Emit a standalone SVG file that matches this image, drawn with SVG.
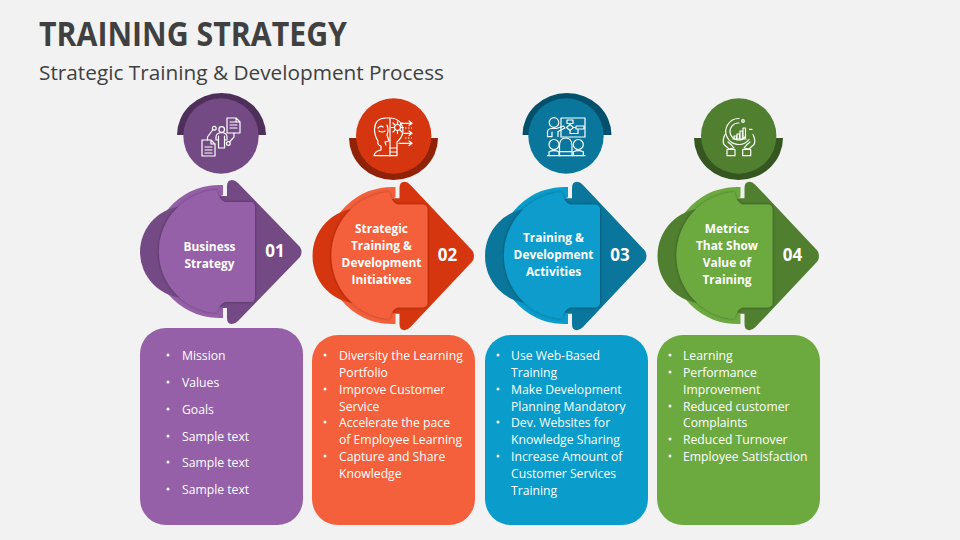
<svg xmlns="http://www.w3.org/2000/svg" width="960" height="540" viewBox="0 0 960 540">
<style>
text{font-family:"Open Sans","Noto Sans","Liberation Sans",sans-serif;}
.t{font-size:33.5px;font-weight:700;fill:#404040}
.s{font-size:20.8px;fill:#404040}
.h{font-size:11.9px;font-weight:700;fill:#fff;text-anchor:middle}
.n{font-size:17px;font-weight:700;fill:#fff;text-anchor:middle}
.b{font-size:12.2px;fill:#fff}
.i{fill:none;stroke:#fff;stroke-width:1.2;stroke-linejoin:round;stroke-linecap:round}
.l{fill:var(--l)}.m{fill:var(--m)}.d{fill:var(--d)}
.p{--l:#9560A8;--m:#744A85;--d:#4E2F5A}
.o{--l:#F4603B;--m:#D5360F;--d:#8F2209}
.c{--l:#0A9CCB;--m:#0A769C;--d:#03506D}
.g{--l:#6CAA40;--m:#507F30;--d:#355620}
</style>
<defs>
<filter id="sh" x="-10%" y="-10%" width="120%" height="120%"><feDropShadow dx="0" dy="0" stdDeviation="1.400" flood-color="#000" flood-opacity=".4"/></filter>
<g id="shape">
<path class="m" d="M227 186 Q227 180 232 180 Q235 180 238 183 L300 247 Q303 252 300 257 L238 321 Q235 324 232 324 Q227 324 227 318 V308 H200 V196 H227Z"/>
<path class="l" d="M223 185 V195 L212 200 V304 L223 308 V318 A66.600 66.600 0 1 1 223 185Z"/>
<circle class="m" cx="186" cy="252" r="46"/>
<path class="l" d="M217 190 Q219 200 225 202 L250 202 Q255 202 255 207 L255 297 Q255 302 250 302 L225 302 Q219 304 217 313 A61.600 61.600 0 0 1 217 190Z" filter="url(#sh)"/>
</g>
<path id="rup" d="M177 135 A44.500 42 0 0 1 266 135Z"/>
<path id="rdn" d="M349 138 A44.500 42 0 0 0 438 138Z"/>
</defs>
<rect width="960" height="540" fill="#F2F2F2"/>
<text class="t" x="39" y="46" textLength="308" lengthAdjust="spacingAndGlyphs">TRAINING STRATEGY</text>
<text class="s" x="39" y="80" textLength="405" lengthAdjust="spacingAndGlyphs">Strategic Training &amp; Development Process</text>

<g id="node1" class="p">
<use href="#rup" class="d"/><circle class="m" cx="221" cy="136" r="37.700"/>
<g class="i">
<path d="M202 140h9l4 4v12h-13z M211 140v4h4 M205 147h7 M205 150h7 M205 153h7"/>
<path d="M227 118h9l4 4v11h-13z M236 118v4h4 M230 122h5 M230 125h7 M230 128h7"/>
<circle cx="221.700" cy="129.500" r="2.800"/><path d="M216 140v-3q0-4 5.700-4.500q5.300.5 5.300 4.500v3 M218.500 136v12h6v-12 M216 140h2.500 M224.500 140h2.500"/>
<path d="M207.500 140v-3l5.500-7.500"/><circle cx="214.300" cy="128.300" r="1.900"/>
<path d="M234 133v4l-4.500 5"/><circle cx="228.300" cy="143.500" r="1.900"/>
</g>
<use href="#shape"/>
<text class="h" x="209.500" y="251">Business</text><text class="h" x="209.500" y="268">Strategy</text>
<text class="n" x="275" y="257">01</text>
<rect class="l" x="140" y="328" width="163" height="197" rx="26"/>
<g fill="#fff"><circle cx="168" cy="355" r="1.500"/><circle cx="168" cy="382" r="1.500"/><circle cx="168" cy="409" r="1.500"/><circle cx="168" cy="436" r="1.500"/><circle cx="168" cy="462" r="1.500"/><circle cx="168" cy="489" r="1.500"/></g>
<text class="b" x="182" y="360">Mission</text><text class="b" x="182" y="387">Values</text><text class="b" x="182" y="414">Goals</text><text class="b" x="182" y="441">Sample text</text><text class="b" x="182" y="467">Sample text</text><text class="b" x="182" y="494">Sample text</text>
</g>

<g id="node2" class="o">
<use href="#rdn" class="d"/><circle class="m" cx="393.700" cy="136" r="37.700"/>
<g class="i">
<path d="M390 118H386Q375 118 374.500 129Q374.500 136 378 141Q377 145 381 146V150Q375 151 374 155.700H390 M390 118V155.700"/>
<path d="M378 128q3-3 5-1 M379 131q3 2 6 0 M387 125q2 5 0 10l2 6l-4 1l1 3"/><circle cx="397.500" cy="127.500" r="3"/><path d="M397.500 121.500v2M397.500 131.500v2M391.500 127.500h2M401.500 127.500h2M393 123l1.500 1.500M402 123l-1.500 1.500M393 132l1.500-1.500M402 132l-1.500-1.500"/>
<path d="M391 118q11 1 12 12q0 7-6 12v13.700h-7 M390 148h7M390 152h7"/>
<path d="M401 123.300h11M409 121l3 2.300-3 2.300M404 133.300h8M409 131l3 2.300-3 2.300M399 143.300h13M409 141l3 2.300-3 2.300"/>
<path d="M405 128h7M405 138h7" stroke-dasharray="1.500 1.500" stroke-linecap="butt"/>
</g>
<use href="#shape" transform="translate(172.500 -3.560) scale(1 1.030)"/>
<text class="h" x="381.500" y="233">Strategic</text><text class="h" x="381.500" y="250">Training &amp;</text><text class="h" x="381.500" y="267">Development</text><text class="h" x="381.500" y="284">Initiatives</text>
<text class="n" x="447.500" y="261">02</text>
<rect class="l" x="312" y="335" width="163" height="190" rx="26"/>
<g fill="#fff"><circle cx="325" cy="355" r="1.500"/><circle cx="325" cy="389" r="1.500"/><circle cx="325" cy="422" r="1.500"/><circle cx="325" cy="456" r="1.500"/></g>
<text class="b" x="339" y="360">Diversity the Learning</text><text class="b" x="339" y="377">Portfolio</text><text class="b" x="339" y="394">Improve Customer</text><text class="b" x="339" y="411">Service</text><text class="b" x="339" y="427">Accelerate the pace</text><text class="b" x="339" y="444">of Employee Learning</text><text class="b" x="339" y="461">Capture and Share</text><text class="b" x="339" y="478">Knowledge</text>
</g>

<g id="node3" class="c">
<use href="#rup" x="345" class="d" transform="translate(.500 0)"/><circle class="m" cx="566" cy="136" r="37.700"/>
<g class="i">
<rect x="561" y="118" width="24" height="19"/><circle cx="554" cy="122.500" r="4.800"/><path d="M547.500 136.700v-4.700q0-3 4-3.500h5l7-2.500l1.500 2l-7 3.500v5 M552 132v4.700h-4.500"/>
<path d="M567 120h6v3.500h-6z M570 123.500v1 M570 124.500l3.500 3-3.500 3-3.500-3z M576 126h8v3h-8z M573.500 127.500h2.500 M570 130.500v3h8v-4"/>
<circle cx="554" cy="144.500" r="5"/><path d="M549 155.700v-4q5-2 10 0v4zM547.500 155.700h13"/>
<path d="M559.500 146q0-8 6.200-8q6.300 0 6.300 8v5.500h-12.500z M559.500 155.700h12.500v-4h-12.500z"/>
<circle cx="578.300" cy="144.500" r="5"/><path d="M573.300 155.700v-4q5-2 10 0v4zM572 155.700h13"/>
</g>
<use href="#shape" transform="translate(345 -3.560) scale(1 1.030)"/>
<text class="h" x="553.500" y="242">Training &amp;</text><text class="h" x="553.500" y="259">Development</text><text class="h" x="553.500" y="276">Activities</text>
<text class="n" x="620" y="261">03</text>
<rect class="l" x="485" y="335" width="163" height="190" rx="26"/>
<g fill="#fff"><circle cx="498" cy="355" r="1.500"/><circle cx="498" cy="389" r="1.500"/><circle cx="498" cy="422" r="1.500"/><circle cx="498" cy="456" r="1.500"/></g>
<text class="b" x="511" y="360">Use Web-Based</text><text class="b" x="511" y="377">Training</text><text class="b" x="511" y="394">Make Development</text><text class="b" x="511" y="411">Planning Mandatory</text><text class="b" x="511" y="427">Dev. Websites for</text><text class="b" x="511" y="444">Knowledge Sharing</text><text class="b" x="511" y="461">Increase Amount of</text><text class="b" x="511" y="478">Customer Services</text><text class="b" x="511" y="495">Training</text>
</g>

<g id="node4" class="g">
<use href="#rdn" x="345" class="d"/><circle class="m" cx="738.700" cy="136" r="37.700"/>
<g class="i">
<path d="M739 118.500a13 13 0 1 0 10 21 M739 123a8.500 8.500 0 1 0 6 14"/><circle cx="743" cy="121" r="1.300"/><path d="M749.500 129.300h2.500"/>
<path d="M734 139v-3h2.500v3M737 139v-5h2.500v5M740 139v-8h2.500v8M743 139v-11h2.500v11M733 139h13"/>
<path d="M725 134.500q-3 6-1 10l5 4.500l5 -1q-3-4-6-6 M727 149.500h8v6.200h-8z M753 134.500q3 6 1 10l-5 4.500l-5-1q3-4 6-6 M742.700 149.500h8v6.200h-8z"/>
</g>
<use href="#shape" transform="translate(517.500 -3.560) scale(1 1.030)"/>
<text class="h" x="727" y="233">Metrics</text><text class="h" x="727" y="250">That Show</text><text class="h" x="727" y="267">Value of</text><text class="h" x="727" y="284">Training</text>
<text class="n" x="792.500" y="261">04</text>
<rect class="l" x="657" y="335" width="163" height="190" rx="26"/>
<g fill="#fff"><circle cx="670" cy="355" r="1.500"/><circle cx="670" cy="372" r="1.500"/><circle cx="670" cy="406" r="1.500"/><circle cx="670" cy="439" r="1.500"/><circle cx="670" cy="456" r="1.500"/></g>
<text class="b" x="683" y="360">Learning</text><text class="b" x="683" y="377">Performance</text><text class="b" x="683" y="394">Improvement</text><text class="b" x="683" y="411">Reduced customer</text><text class="b" x="683" y="427">Complaints</text><text class="b" x="683" y="444">Reduced Turnover</text><text class="b" x="683" y="461">Employee Satisfaction</text>
</g>
</svg>
